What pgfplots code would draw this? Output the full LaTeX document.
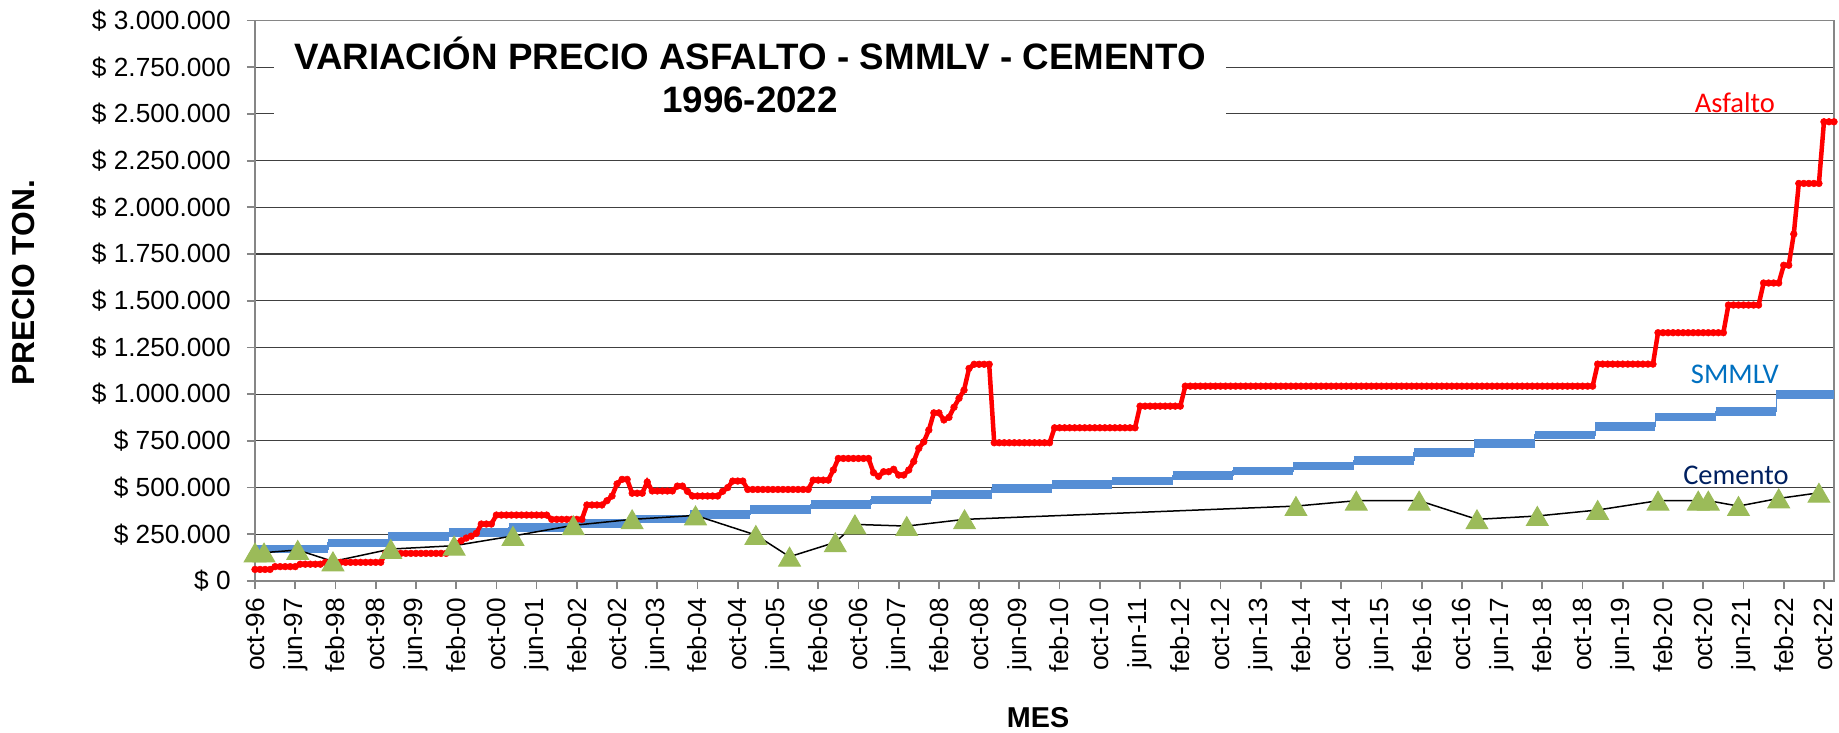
\documentclass[border=0pt]{standalone}
\usepackage{fontspec}
\setmainfont{Liberation Sans}
\newfontfamily\calibri{Carlito}
\usepackage{pgfplots}
\usepackage{pgfplotstable}
\pgfplotsset{compat=1.18}

\definecolor{asf}{RGB}{255,0,0}
\definecolor{smm}{RGB}{85,142,213}
\definecolor{cem}{RGB}{155,187,89}
\definecolor{smmtxt}{RGB}{0,112,192}
\definecolor{cemtxt}{RGB}{0,32,96}
\definecolor{frame}{RGB}{134,134,134}

% SMMLV: valor anual, desde el mes de inicio (oct-96 = 0)
\pgfplotstableread{
x y
-0.5 172005
14.5 203826
26.5 236460
38.5 260100
50.5 286000
62.5 309000
74.5 332000
86.5 358000
98.5 381500
110.5 408000
122.5 433700
134.5 461500
146.5 496900
158.5 515000
170.5 535600
182.5 566700
194.5 589500
206.5 616000
218.5 644350
230.5 689455
242.5 737717
254.5 781242
266.5 828116
278.5 877803
290.5 908526
302.5 1000000
314.5 1000000
}\smmlv

% Cemento
\pgfplotstableread{
x y
0 152000
1.8 152000
8.5 166000
15.5 105000
27 171000
39.6 189000
51.3 241000
63.3 298000
75 330000
87.6 351000
99.6 246000
106.3 130000
115.4 207000
119.3 303000
129.6 294000
141.1 330000
207 401000
219 430000
231.5 430000
243 330000
255 348000
267 380000
279 430000
287 430000
289 430000
295 401000
303 442000
311 472000
}\cemento

\begin{document}
\begin{tikzpicture}
\useasboundingbox (-102pt,-60.4pt) rectangle (633.6pt,232.4pt);
\begin{axis}[
  scale only axis, width=631.6pt, height=224.2pt,
  xmin=0, xmax=314, ymin=0, ymax=3000000,
  axis line style={draw=frame, line width=0.7pt},
  tick align=outside, major tick length=3.2pt,
  tick style={draw=frame, line width=0.7pt},
  xtick pos=left, ytick pos=left,
  xtick={0,8,16,24,32,40,48,56,64,72,80,88,96,104,112,120,128,136,144,152,160,168,176,184,192,200,208,216,224,232,240,248,256,264,272,280,288,296,304,312},
  xticklabels={oct-96,jun-97,feb-98,oct-98,jun-99,feb-00,oct-00,jun-01,feb-02,oct-02,jun-03,feb-04,oct-04,jun-05,feb-06,oct-06,jun-07,feb-08,oct-08,jun-09,feb-10,oct-10,jun-11,feb-12,oct-12,jun-13,feb-14,oct-14,jun-15,feb-16,oct-16,jun-17,feb-18,oct-18,jun-19,feb-20,oct-20,jun-21,feb-22,oct-22},
  x tick label style={rotate=90, anchor=east, font=\fontsize{10.5}{12}\selectfont},
  ytick={0,250000,500000,750000,1000000,1250000,1500000,1750000,2000000,2250000,2500000,2750000,3000000},
  yticklabels={\$ 0,\$ 250.000,\$ 500.000,\$ 750.000,\$ 1.000.000,\$ 1.250.000,\$ 1.500.000,\$ 1.750.000,\$ 2.000.000,\$ 2.250.000,\$ 2.500.000,\$ 2.750.000,\$ 3.000.000},
  y tick label style={font=\fontsize{10.5}{12}\selectfont, xshift=-3pt},
  scaled y ticks=false,
  ymajorgrids, grid style={black!75, line width=0.45pt},
  xlabel={MES}, ylabel={PRECIO TON.},
  xlabel style={at={(axis description cs:0.4959,-0.244)}, anchor=center, font=\bfseries\fontsize{11.5}{13}\selectfont},
  ylabel style={at={(axis description cs:-0.1467,0.532)}, anchor=center, font=\bfseries\fontsize{12.7}{14}\selectfont},
]
% SMMLV
\addplot[smm, line width=0.5pt, const plot mark left, forget plot] table {\smmlv};
\addplot[smm, line width=3.5pt, jump mark left] table {\smmlv};
% Asfalto (mensual)
\addplot[asf, line width=1.8pt, mark=*, mark size=1.35pt, mark options={solid, fill=asf, draw=asf, line width=0.2pt}] coordinates {
(0,62000)(1,62000)(2,62000)(3,62000)(4,77000)(5,77000)(6,77000)(7,77000)(8,77000)(9,90000)(10,90000)(11,90000)(12,90000)(13,90000)
(14,100000)(15,100000)(16,100000)(17,100000)(18,100000)(19,100000)(20,100000)(21,100000)(22,100000)(23,100000)(24,100000)(25,100000)
(26,148000)(27,148000)(28,148000)(29,148000)(30,148000)(31,148000)(32,148000)(33,148000)(34,148000)(35,148000)(36,148000)(37,148000)(38,148000)
(39,175000)(40,200000)(41,215000)(42,230000)(43,240000)(44,255000)(45,305000)(46,305000)(47,305000)
(48,353000)(49,353000)(50,353000)(51,353000)(52,353000)(53,353000)(54,353000)(55,353000)(56,353000)(57,353000)(58,353000)
(59,330000)(60,330000)(61,330000)(62,330000)(63,330000)(64,330000)(65,330000)
(66,407000)(67,407000)(68,407000)(69,407000)(70,430000)(71,455000)(72,520000)(73,544000)(74,544000)
(75,470000)(76,470000)(77,470000)(78,530000)(79,482000)(80,482000)(81,482000)(82,482000)(83,482000)(84,508000)(85,508000)(86,480000)
(87,455000)(88,455000)(89,455000)(90,455000)(91,455000)(92,455000)(93,480000)(94,500000)(95,535000)(96,535000)(97,535000)
(98,490000)(99,490000)(100,490000)(101,490000)(102,490000)(103,490000)(104,490000)(105,490000)(106,490000)(107,490000)(108,490000)(109,490000)(110,490000)
(111,540000)(112,540000)(113,540000)(114,540000)(115,594000)(116,656000)(117,656000)(118,656000)(119,656000)(120,656000)(121,656000)(122,656000)
(123,580000)(124,560000)(125,585000)(126,585000)(127,598000)(128,567000)(129,567000)(130,594000)(131,640000)(132,710000)(133,745000)(134,808000)
(135,900000)(136,900000)(137,862000)(138,876000)(139,930000)(140,978000)(141,1022000)(142,1138000)
(143,1160000)(144,1160000)(145,1160000)(146,1160000)
(147,740000)(148,740000)(149,740000)(150,740000)(151,740000)(152,740000)(153,740000)(154,740000)(155,740000)(156,740000)(157,740000)(158,740000)
(159,820000)(160,820000)(161,820000)(162,820000)(163,820000)(164,820000)(165,820000)(166,820000)(167,820000)(168,820000)(169,820000)(170,820000)(171,820000)(172,820000)(173,820000)(174,820000)(175,820000)
(176,936000)(177,936000)(178,936000)(179,936000)(180,936000)(181,936000)(182,936000)(183,936000)(184,936000)
(185,1043000)(186,1043000)(187,1043000)(188,1043000)(189,1043000)(190,1043000)(191,1043000)(192,1043000)(193,1043000)(194,1043000)
(195,1043000)(196,1043000)(197,1043000)(198,1043000)(199,1043000)(200,1043000)(201,1043000)(202,1043000)(203,1043000)(204,1043000)
(205,1043000)(206,1043000)(207,1043000)(208,1043000)(209,1043000)(210,1043000)(211,1043000)(212,1043000)(213,1043000)(214,1043000)
(215,1043000)(216,1043000)(217,1043000)(218,1043000)(219,1043000)(220,1043000)(221,1043000)(222,1043000)(223,1043000)(224,1043000)
(225,1043000)(226,1043000)(227,1043000)(228,1043000)(229,1043000)(230,1043000)(231,1043000)(232,1043000)(233,1043000)(234,1043000)
(235,1043000)(236,1043000)(237,1043000)(238,1043000)(239,1043000)(240,1043000)(241,1043000)(242,1043000)(243,1043000)(244,1043000)
(245,1043000)(246,1043000)(247,1043000)(248,1043000)(249,1043000)(250,1043000)(251,1043000)(252,1043000)(253,1043000)(254,1043000)
(255,1043000)(256,1043000)(257,1043000)(258,1043000)(259,1043000)(260,1043000)(261,1043000)(262,1043000)(263,1043000)(264,1043000)
(265,1043000)(266,1043000)
(267,1161000)(268,1161000)(269,1161000)(270,1161000)(271,1161000)(272,1161000)(273,1161000)(274,1161000)(275,1161000)(276,1161000)(277,1161000)(278,1161000)
(279,1329000)(280,1329000)(281,1329000)(282,1329000)(283,1329000)(284,1329000)(285,1329000)(286,1329000)(287,1329000)(288,1329000)(289,1329000)(290,1329000)(291,1329000)(292,1329000)
(293,1477000)(294,1477000)(295,1477000)(296,1477000)(297,1477000)(298,1477000)(299,1477000)
(300,1595000)(301,1595000)(302,1595000)(303,1595000)(304,1690000)(305,1690000)(306,1857000)
(307,2128000)(308,2128000)(309,2128000)(310,2128000)(311,2128000)(312,2458000)(313,2458000)(314,2458000)
};
% Cemento
\addplot[only marks, mark=triangle*, mark size=5pt, mark options={fill=cem, draw=cem, yshift=-1.25pt}] table {\cemento};
\addplot[black, line width=0.6pt] table {\cemento};
% rotulos de series
\node[anchor=base, text=asf, font=\calibri\fontsize{11.4}{13}\selectfont] at (axis cs:294.3,2505000) {Asfalto};
\node[anchor=base, text=smmtxt, font=\calibri\fontsize{11.4}{13}\selectfont] at (axis cs:294.3,1054600) {SMMLV};
\node[anchor=base, text=cemtxt, font=\calibri\fontsize{11.4}{13}\selectfont] at (axis cs:294.5,519000) {Cemento};
% titulo
\node[fill=white, inner sep=0pt, minimum width=380.8pt, minimum height=40pt, align=center, font=\bfseries\fontsize{14.7}{17.4}\selectfont] at (axis description cs:0.3135,0.903) {VARIACIÓN PRECIO ASFALTO - SMMLV - CEMENTO\\1996-2022};
\end{axis}
\end{tikzpicture}
\end{document}
